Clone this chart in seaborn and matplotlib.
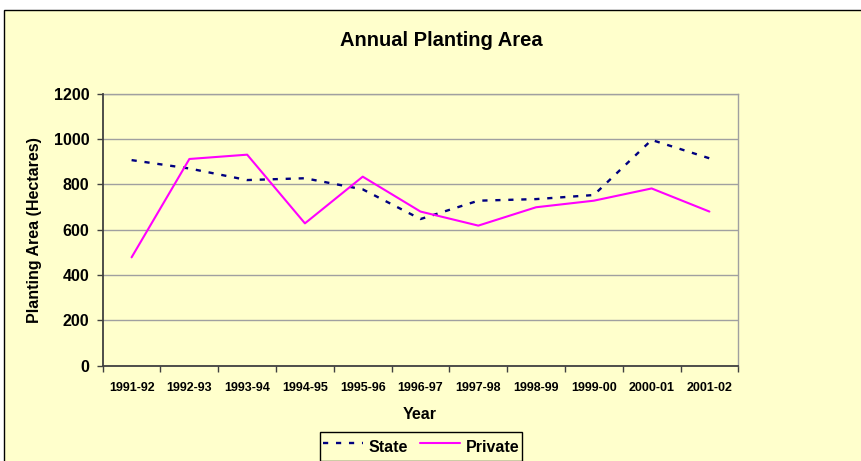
import matplotlib
matplotlib.use("Agg")
import matplotlib.pyplot as plt
import matplotlib.patches as mpatches
from matplotlib.lines import Line2D
from matplotlib.ticker import FixedLocator
import seaborn as sns
import pandas as pd
import numpy as np

years = ["1991-92", "1992-93", "1993-94", "1994-95", "1995-96", "1996-97",
         "1997-98", "1998-99", "1999-00", "2000-01", "2001-02"]
state = [907, 870, 819, 827, 778, 647, 728, 735, 753, 996, 915]
private = [478, 912, 931, 628, 834, 680, 618, 699, 728, 782, 680]
y_ticks = [0, 200, 400, 600, 800, 1000, 1200]

sns.set_theme(style="white")
plt.rcParams["font.family"] = ["Liberation Sans", "DejaVu Sans"]
plt.rcParams["font.weight"] = "bold"
plt.rcParams["text.color"] = "black"
plt.rcParams["xtick.color"] = "black"
plt.rcParams["ytick.color"] = "black"

W, H = 862, 461
BG = "#FFFFCC"
fig = plt.figure(figsize=(W / 100, H / 100), dpi=100)
fig.patch.set_facecolor("white")

# chart area panel with thin black border (runs off right and bottom)
fig.patches.append(mpatches.Rectangle((4 / W, -0.05), 1.05, 1 - 10 / H + 0.05,
                                      transform=fig.transFigure, facecolor=BG,
                                      edgecolor="black", linewidth=1.0, zorder=-10))

left, right, top, bottom = 102.7, 738.3, 93.7, 365.7
ax = fig.add_axes([left / W, 1 - bottom / H, (right - left) / W, (bottom - top) / H])
ax.set_facecolor(BG)

df = pd.DataFrame({
    "idx": list(range(len(years))) * 2,
    "area": state + private,
    "series": ["State"] * len(years) + ["Private"] * len(years),
})

sns.lineplot(data=df[df.series == "State"], x="idx", y="area", ax=ax,
             color="#000080", linewidth=1.7, linestyle=(0, (2.2, 3.3)),
             legend=False, zorder=3)
sns.lineplot(data=df[df.series == "Private"], x="idx", y="area", ax=ax,
             color="#FF00FF", linewidth=1.5, legend=False, zorder=3)

ax.set_xlim(-0.5, len(years) - 0.5)
ax.set_ylim(0, 1200)

# y axis
ax.yaxis.set_major_locator(FixedLocator(y_ticks))
ax.set_yticklabels([str(v) for v in y_ticks], fontsize=11.5, fontweight="bold")
ax.grid(axis="y", color="#A0A0A0", linewidth=1.0)
ax.grid(axis="x", visible=False)
ax.tick_params(axis="y", which="major", direction="out", length=4.5, width=1.0,
               color="#404040", pad=5, left=True)

# x axis: tick marks between categories, labels centred on categories
ax.xaxis.set_major_locator(FixedLocator(np.arange(-0.5, len(years), 1.0)))
ax.xaxis.set_minor_locator(FixedLocator(np.arange(len(years))))
ax.set_xticklabels([], minor=False)
ax.set_xticklabels(years, minor=True, fontsize=9, fontweight="bold")
ax.tick_params(axis="x", which="major", direction="out", length=4, width=1.0,
               color="#404040", bottom=True)
ax.tick_params(axis="x", which="minor", length=0, pad=12)

for side in ["top", "right"]:
    ax.spines[side].set_color("#A0A0A0")
    ax.spines[side].set_linewidth(1.0)
for side in ["left", "bottom"]:
    ax.spines[side].set_color("#404040")
    ax.spines[side].set_linewidth(1.3)
    ax.spines[side].set_zorder(4)

ax.set_xlabel("")
ax.set_ylabel("")
fig.text(441 / W, 1 - 40 / H, "Annual Planting Area", ha="center", va="center",
         fontsize=14.5, fontweight="bold")
fig.text(35 / W, 1 - 230 / H, "Planting Area (Hectares)", ha="center", va="center",
         rotation=90, fontsize=11.5, fontweight="bold")
fig.text(420 / W, 1 - 414 / H, "Year", ha="center", va="center",
         fontsize=11.5, fontweight="bold")

handles = [Line2D([], [], color="#000080", linewidth=1.7, linestyle=(0, (2.2, 3.3))),
           Line2D([], [], color="#FF00FF", linewidth=1.5)]
leg = fig.legend(handles, ["State", "Private"], loc="upper left",
                 bbox_to_anchor=(320 / W, 1 - 432 / H), ncol=2, frameon=True,
                 fancybox=False, framealpha=1, edgecolor="black",
                 facecolor=BG, prop={"weight": "bold", "size": 11.5},
                 handlelength=2.5, handleheight=1.8, handletextpad=0.35,
                 columnspacing=0.75, borderpad=0.2, borderaxespad=0)
leg.get_frame().set_linewidth(1.0)

fig.savefig("out.png", dpi=100, facecolor=fig.get_facecolor())
